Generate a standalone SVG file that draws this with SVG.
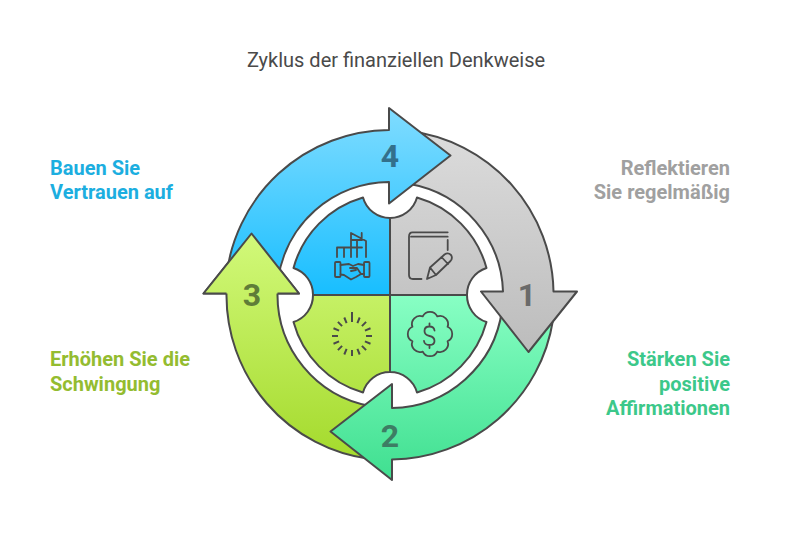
<svg xmlns="http://www.w3.org/2000/svg" width="792" height="540" viewBox="0 0 792 540">
<style>
text{font-family:Roboto,"Liberation Sans",sans-serif}
.t{font-size:20px;fill:#4a4a4a;text-anchor:middle}
.l{font-size:20px;font-weight:700}
.e{text-anchor:end}
.n{font-size:32px;font-weight:700;text-anchor:middle}
.s{stroke:#4a4a4a;stroke-width:2;stroke-linejoin:round}
.i{fill:none;stroke:#4a4a4a;stroke-width:1.800;stroke-linecap:round;stroke-linejoin:round}
.b{stroke-linecap:butt;stroke-width:2}
</style>
<defs>
<linearGradient id="gb" gradientUnits="userSpaceOnUse" x1="0" y1="108" x2="0" y2="295"><stop offset="0" stop-color="#80dcff"/><stop offset="1" stop-color="#18beff"/></linearGradient>
<linearGradient id="gg" gradientUnits="userSpaceOnUse" x1="0" y1="130" x2="0" y2="352"><stop offset="0" stop-color="#dcdcdc"/><stop offset="1" stop-color="#bcbcbc"/></linearGradient>
<linearGradient id="gm" gradientUnits="userSpaceOnUse" x1="0" y1="295" x2="0" y2="480"><stop offset="0" stop-color="#88ffc4"/><stop offset="1" stop-color="#3fdf90"/></linearGradient>
<linearGradient id="gl" gradientUnits="userSpaceOnUse" x1="0" y1="234" x2="0" y2="460"><stop offset="0" stop-color="#d2f97a"/><stop offset="1" stop-color="#a4da2c"/></linearGradient>
</defs>
<text class="t" x="396" y="66.500">Zyklus der finanziellen Denkweise</text>
<g id="connectors">
<path id="arrow-3" class="s" fill="url(#gl)" d="M370 459A165 165 0 0 1 226.500 293.500H203.500L251.500 233.500L299 293.500H277.500A113 113 0 0 0 370 406Z"/>
<path id="arrow-2" class="s" fill="url(#gm)" d="M553 320A165 165 0 0 1 392 459.500V480L330.500 431.500L392 384V408A113 113 0 0 0 502 310Z"/>
<path id="arrow-1" class="s" fill="url(#gg)" d="M410 131A165 165 0 0 1 553.500 291.500H577L528.500 352L481 291.500H503A113 113 0 0 0 410 184Z"/>
<path id="arrow-4" class="s" fill="url(#gb)" d="M278 280A113 113 0 0 1 389 182V203.500L450.500 155.500L389 108V130A165 165 0 0 0 226 280Z"/>
<path id="arrow-3-head" class="s" fill="url(#gl)" d="M226.500 293.500H203.500L251.500 233.500L299 293.500H277.500"/>
</g>
<g id="node-4">
<path class="s" fill="url(#gb)" d="M390 295H313A28 28 0 0 0 293.500 268A101 101 0 0 1 363 197.500A28 28 0 0 0 390 218Z"/>
<g class="i"><path d="M351 257V233L366 241V257M361.700 233V240M352 240H362M337 257V247.500H362M344 247.500V257M357 240V257"/></g>
<g class="i"><rect x="335" y="262" width="5.500" height="15" rx="1"/><rect x="364" y="262" width="5.500" height="15" rx="1"/><path d="M340.500 265L349 264L353 266L358 264L364 265M340.500 274.500L344 275L351 279.500L356 277L361 274L364 274M350 268L357 268L361 274M351 271L356 270"/></g>
<text class="n" x="390" y="167" fill="#33708c">4</text>
</g>
<g id="node-1">
<path class="s" fill="url(#gg)" d="M390 295H467A28 28 0 0 1 486.500 268A101 101 0 0 0 417 197.500A28 28 0 0 1 390 218Z"/>
<g class="i"><path d="M447.700 232.300H412.500Q409 232.300 409 236.700V275Q409 279 413 279H421.500M411 236.700H447.700M447.700 240V250"/><path d="M427 279L430 267.500L444.500 254.500Q448 252 451 255Q453 258 450.500 261L436 275ZM430 267.500L436 275M441.500 257L448 264"/></g>
<text class="n" x="527" y="306" fill="#6a6a6a">1</text>
</g>
<g id="node-2">
<path class="s" fill="url(#gm)" d="M390 295H467A28 28 0 0 0 486.500 322A101 101 0 0 1 417 392.500A28 28 0 0 0 390 372Z"/>
<g class="i"><path d="M447.550 326.730A8 8 0 0 1 447.550 341.270A8 8 0 0 1 437.270 351.550A8 8 0 0 1 422.730 351.550A8 8 0 0 1 412.450 341.270A8 8 0 0 1 412.450 326.730A8 8 0 0 1 422.730 316.450A8 8 0 0 1 437.270 316.450A8 8 0 0 1 447.550 326.730Z"/><path d="M434.500 330.500Q434 326.500 429.500 326.500Q424.500 326.500 424.500 331Q424.500 335 429.500 336Q434.500 337 434.500 341Q434.500 345 429.500 345Q424.500 345 424 341M429.500 323.500V326.500M429.500 345V348"/></g>
<text class="n" x="390" y="447" fill="#3d7d64">2</text>
</g>
<g id="node-3">
<path class="s" fill="url(#gl)" d="M390 295H313A28 28 0 0 1 293.500 322A101 101 0 0 0 363 392.500A28 28 0 0 1 390 372Z"/>
<path class="i b" transform="translate(352 336)" d="M0 -14V-24M5.400 -12.900L7.700 -18.500M9.900 -9.900L14.100 -14.100M12.900 -5.400L18.500 -7.700M14 0H20M12.900 5.400L18.500 7.700M9.900 9.900L14.100 14.100M5.400 12.900L7.700 18.500M0 14V20M-5.400 12.900L-7.700 18.500M-9.900 9.900L-14.100 14.100M-12.900 5.400L-18.500 7.700M-14 0H-20M-12.900 -5.400L-18.500 -7.700M-9.900 -9.900L-14.100 -14.100M-5.400 -12.900L-7.700 -18.500"/>
<text class="n" x="252" y="306" fill="#5f7d38">3</text>
</g>
<g id="labels">
<text class="l" x="50" y="174.500" fill="#1caee0">Bauen Sie</text>
<text class="l" x="50" y="198.500" fill="#1caee0">Vertrauen auf</text>
<text class="l e" x="730" y="174.500" fill="#a0a0a0">Reflektieren</text>
<text class="l e" x="730" y="198.500" fill="#a0a0a0">Sie regelmäßig</text>
<text class="l" x="50" y="366" fill="#94bc30">Erhöhen Sie die</text>
<text class="l" x="50" y="390.500" fill="#94bc30">Schwingung</text>
<text class="l e" x="730" y="366" fill="#3cc88a">Stärken Sie</text>
<text class="l e" x="730" y="390.500" fill="#3cc88a">positive</text>
<text class="l e" x="730" y="414.500" fill="#3cc88a">Affirmationen</text>
</g>
</svg>
